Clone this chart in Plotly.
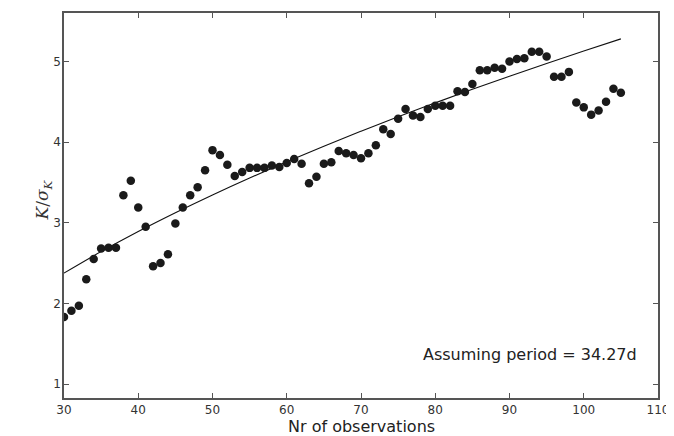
import plotly.graph_objects as go

n_obs = list(range(30, 106))
k_sigma = [1.83, 1.91, 1.97, 2.30, 2.55, 2.68, 2.69, 2.69, 3.34, 3.52,
           3.19, 2.95, 2.46, 2.50, 2.61, 2.99, 3.19, 3.34, 3.44, 3.65,
           3.90, 3.84, 3.72, 3.58, 3.63, 3.68, 3.68, 3.68, 3.71, 3.69,
           3.74, 3.79, 3.73, 3.49, 3.57, 3.73, 3.75, 3.89, 3.86, 3.84,
           3.80, 3.86, 3.96, 4.16, 4.10, 4.29, 4.41, 4.33, 4.31, 4.41,
           4.45, 4.45, 4.45, 4.63, 4.62, 4.72, 4.89, 4.89, 4.92, 4.91,
           5.00, 5.03, 5.04, 5.12, 5.12, 5.06, 4.81, 4.81, 4.87, 4.49,
           4.43, 4.34, 4.39, 4.50, 4.66, 4.61]

fit_x = [30, 35, 40, 45, 50, 55, 60, 65, 70, 75, 80, 85, 90, 95, 100, 105]
fit_y = [2.375, 2.642, 2.891, 3.124, 3.345, 3.555, 3.756, 3.949, 4.134,
         4.313, 4.486, 4.654, 4.817, 4.975, 5.129, 5.279]

x_ticks = [30, 40, 50, 60, 70, 80, 90, 100, 110]
y_ticks = [1, 2, 3, 4, 5]

fig = go.Figure()
fig.add_trace(go.Scatter(x=fit_x, y=fit_y, mode="lines",
                         line=dict(color="#111111", width=1.1, shape="spline"),
                         showlegend=False, hoverinfo="skip"))
fig.add_trace(go.Scatter(x=n_obs, y=k_sigma, mode="markers",
                         marker=dict(color="#1a1a1a", size=8.5, line=dict(width=0)),
                         showlegend=False))

axis_common = dict(showline=True, linecolor="#555555", linewidth=1.5,
                   mirror="ticks", ticks="inside", ticklen=5, tickwidth=1.2,
                   tickcolor="#555555", showgrid=False, zeroline=False,
                   automargin=False,
                   tickfont=dict(family="DejaVu Sans", size=12, color="#333333"))

fig.update_xaxes(range=[30, 110], tickvals=x_ticks, **axis_common)
fig.update_yaxes(range=[0.827, 5.60], tickvals=y_ticks,
                 ticklabelstandoff=-1, **axis_common)

# axis titles
fig.add_annotation(x=0.5, y=-0.0735, xref="paper", yref="paper",
                   xanchor="center", yanchor="middle", showarrow=False,
                   text="Nr of observations",
                   font=dict(family="DejaVu Sans", size=16, color="#222222"))
fig.add_annotation(x=-0.034, y=0.515, xref="paper", yref="paper",
                   xanchor="center", yanchor="middle", showarrow=False,
                   textangle=-90,
                   text="<i>K</i>/<i>σ</i><sub><i>K</i></sub>",
                   font=dict(family="DejaVu Serif", size=17, color="#333333"))

fig.add_annotation(x=0.968, y=0.1117, xref="paper", yref="paper",
                   xanchor="right", yanchor="middle",
                   text="Assuming period = 34.27d", showarrow=False,
                   font=dict(family="DejaVu Sans", size=16, color="#222222"))

fig.update_layout(width=666, height=428,
                  margin=dict(l=56, r=16, t=5, b=38),
                  plot_bgcolor="white", paper_bgcolor="white")

fig.write_html("out.html")
